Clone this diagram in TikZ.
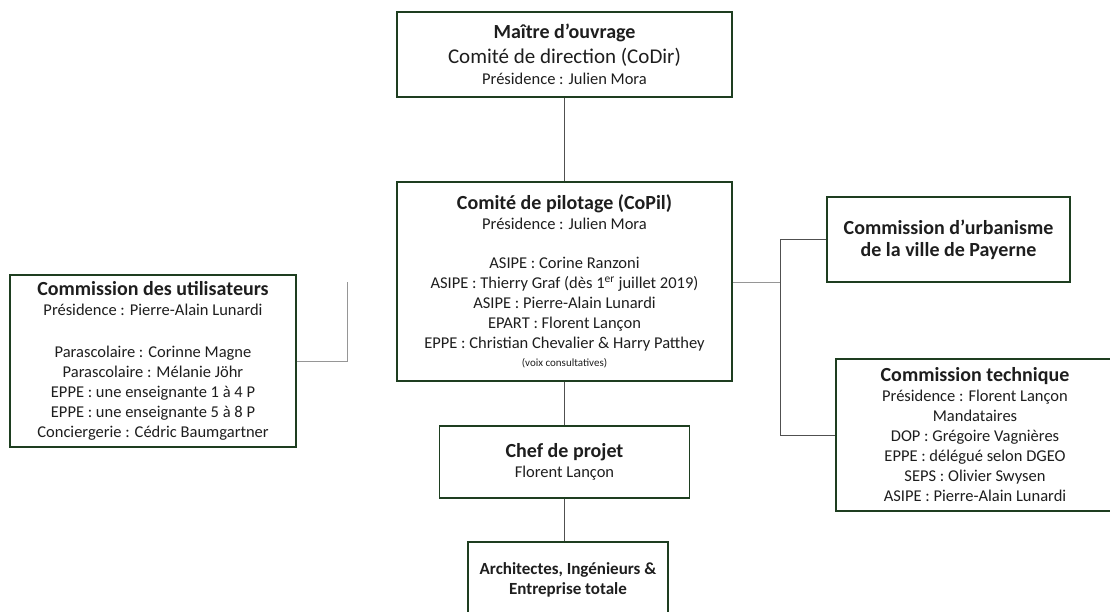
\documentclass[tikz,border=0pt]{standalone}
\usepackage{fontspec}
\setmainfont{Carlito}
\usetikzlibrary{positioning}

\definecolor{boxgreen}{RGB}{30,62,32}
\definecolor{linedark}{RGB}{80,80,80}
\definecolor{linelight}{RGB}{150,150,150}
\definecolor{textgray}{RGB}{30,30,30}

\newcommand{\ttl}{\fontsize{20}{24}\selectfont\bfseries}
\newcommand{\midsize}{\fontsize{21}{24}\selectfont\mdseries}
\newcommand{\sml}{\fontsize{11}{13}\selectfont}

\begin{document}
\begin{tikzpicture}[x=1pt,y=-1pt,
    orgbox/.style={draw=boxgreen, line width=1.8pt, fill=white, align=center,
        inner sep=0pt, text=textgray, font=\fontsize{16.5}{20}\selectfont},
    link/.style={draw=linedark, line width=0.9pt},
    sidelink/.style={draw=linelight, line width=0.9pt}]
    \useasboundingbox (0,0) rectangle (1110,612);

    % Main chain
    \node[orgbox, minimum width=335, minimum height=85] (codir) at (564.5,54.5)
        {{\ttl Maître d’ouvrage}\\[5pt]
         \midsize Comité de direction (CoDir)\\[1pt]
         Présidence : Julien Mora};
    \node[orgbox, minimum width=335, minimum height=199] (copil) at (564.5,281.5)
        {{\ttl Comité de pilotage (CoPil)}\\
         Présidence : Julien Mora\\[19pt]
         ASIPE : Corine Ranzoni\\
         ASIPE : Thierry Graf (dès 1\textsuperscript{er} juillet 2019)\\
         ASIPE : Pierre-Alain Lunardi\\
         EPART : Florent Lançon\\
         EPPE : Christian Chevalier \& Harry Patthey\\[-2pt]
         {\sml (voix consultatives)}};
    \node[orgbox, minimum width=250, minimum height=72] (chef) at (564.5,462)
        {{\ttl Chef de projet}\\
         Florent Lançon};
    \node[orgbox, minimum width=200, minimum height=76, font=\fontsize{17}{20}\selectfont\bfseries]
        (archi) at (568,580)
        {Architectes, Ingénieurs \&\\
         Entreprise totale};

    % Side boxes
    \node[orgbox, minimum width=286, minimum height=172] (users) at (153,361)
        {{\ttl Commission des utilisateurs}\\
         Présidence : Pierre-Alain Lunardi\\[22pt]
         Parascolaire : Corinne Magne\\
         Parascolaire : Mélanie Jöhr\\
         EPPE : une enseignante 1 à 4 P\\
         EPPE : une enseignante 5 à 8 P\\
         Conciergerie : Cédric Baumgartner};
    \node[orgbox, minimum width=243, minimum height=85] (urba) at (948.5,239.5)
        {{\ttl Commission d’urbanisme}\\[2pt]
         {\ttl de la ville de Payerne}};
    \node[orgbox, minimum width=278, minimum height=152] (tech) at (975,435)
        {{\ttl Commission technique}\\
         Présidence : Florent Lançon\\
         Mandataires\\
         DOP : Grégoire Vagnières\\
         EPPE : délégué selon DGEO\\
         SEPS : Olivier Swysen\\
         ASIPE : Pierre-Alain Lunardi};

    % Connectors
    \coordinate (usrend) at (347,282);
    \coordinate (rjoin) at (780,282);

    \draw[link] (codir.south) -- (copil.north);
    \draw[link] (copil.south) -- (copil.south |- chef.north);
    \draw[link] (chef.south) -- (chef.south |- archi.north);
    \draw[sidelink] (users.east) -| (usrend);
    \draw[sidelink] (copil.east |- rjoin) -- (rjoin);
    \draw[link] (urba.west) -| (rjoin);
    \draw[link] (tech.west) -| (rjoin);
\end{tikzpicture}
\end{document}
